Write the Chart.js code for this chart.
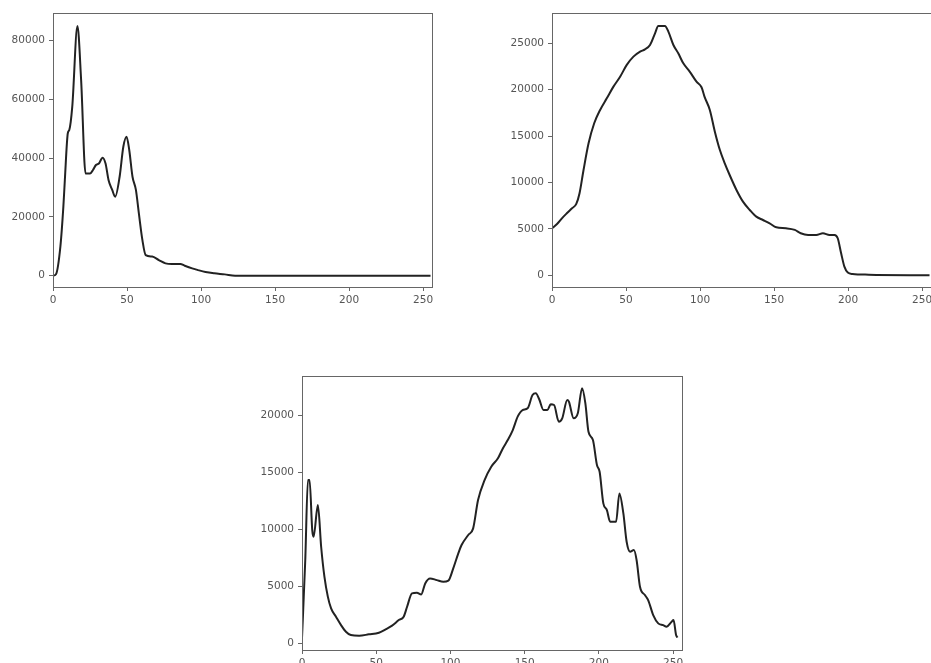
<!DOCTYPE html>
<html>
<head>
<meta charset="utf-8">
<script src="https://cdn.jsdelivr.net/npm/chart.js@4.4.0/dist/chart.umd.min.js"></script>
<style>
html, body { margin:0; padding:0; background:#fff; overflow:hidden; width:931px; height:663px; }
.boite { position:absolute; }
</style>
</head>
<body>
<div class="boite" style="left:0;top:0"><canvas id="h1" width="445" height="320"></canvas></div>
<div class="boite" style="left:498px;top:0"><canvas id="h2" width="447" height="320"></canvas></div>
<div class="boite" style="left:250px;top:360px"><canvas id="h3" width="445" height="303"></canvas></div>
<script>
// graduations de l'axe x (niveaux 0..255)
const xTicks = [0, 50, 100, 150, 200, 250];

// histogramme 1
const niv1 = [0, 2, 5, 7, 8, 10, 11, 13, 16.5, 19, 22, 25, 27, 29, 31, 33.5, 35.5, 37.5, 40, 42, 45, 47.5, 49.7, 51.5, 53.7, 56, 58, 60.4, 62.6, 67, 71.5, 76, 80.4, 86, 89, 94, 98, 103, 109, 116, 123, 255];
const val1 = [0, 500, 10000, 23500, 32600, 48500, 49600, 57500, 85000, 66600, 34800, 34800, 36000, 37700, 38200, 40200, 38200, 32600, 29200, 26900, 33700, 43900, 47300, 42800, 33700, 29200, 21200, 12100, 7000, 6500, 5300, 4200, 4000, 4000, 3400, 2500, 1900, 1250, 800, 450, 0, 0];
const yTicks1 = [0, 20000, 40000, 60000, 80000];

// histogramme 2
const niv2 = [0, 3.4, 6.7, 10, 13.5, 16.4, 18.6, 21.3, 24.7, 28.5, 32.5, 37, 41.5, 46, 50.5, 55, 59.5, 62.8, 66.2, 69.6, 71.8, 76.3, 78.6, 82, 85.3, 88.7, 93, 97.6, 101, 103, 106.6, 110, 113.4, 116.7, 120, 124.6, 129, 133.6, 138, 142.5, 147, 151.5, 158, 164, 168, 173, 178.5, 183, 187.4, 190.8, 193, 195.3, 197.5, 199.8, 203, 214, 255];
const val2 = [5065, 5530, 6140, 6680, 7220, 7690, 8840, 11350, 14220, 16380, 17820, 19070, 20330, 21400, 22670, 23560, 24100, 24350, 24820, 26080, 26870, 26870, 26260, 24820, 23920, 22840, 21950, 20870, 20260, 19250, 17820, 15480, 13500, 12070, 10810, 9200, 7940, 7040, 6320, 5960, 5600, 5170, 5065, 4890, 4530, 4350, 4350, 4530, 4350, 4350, 3990, 2370, 930, 290, 140, 70, 0];
const yTicks2 = [0, 5000, 10000, 15000, 20000, 25000];

// histogramme 3
const niv3 = [0, 2.2, 4, 5.1, 6.9, 7.8, 10.7, 12.9, 15.1, 17.4, 19.6, 22.9, 26.3, 29.6, 32.9, 38.5, 45, 51.8, 56.3, 60.7, 65.2, 68.5, 70.8, 74.1, 77.4, 80.3, 83, 86.3, 90.8, 95.2, 98.6, 101.9, 105.3, 107.5, 112, 115.3, 118.6, 123, 127.5, 132, 135.3, 138.6, 142, 145.3, 148.6, 152, 155.3, 157.5, 159.8, 162.7, 165.3, 167.6, 169.8, 173, 175.3, 178.7, 179.8, 183, 185.8, 188.7, 190.9, 193, 196, 198.7, 200.5, 203, 205.4, 207.6, 211.6, 213.8, 216.5, 218.7, 221, 223.6, 225.4, 227.7, 231, 233.2, 236.6, 240, 243.3, 245.6, 249, 250.3, 252, 253];
const val3 = [500, 7330, 14330, 14330, 9950, 9370, 12140, 8490, 5870, 4120, 3090, 2360, 1630, 1050, 760, 700, 820, 960, 1255, 1580, 2070, 2360, 3240, 4410, 4470, 4320, 5280, 5720, 5570, 5430, 5520, 6600, 7910, 8640, 9520, 10100, 12580, 14330, 15500, 16230, 17100, 17830, 18710, 19880, 20460, 20610, 21770, 21920, 21400, 20460, 20460, 20960, 20900, 19440, 19730, 21340, 21190, 19730, 20170, 22360, 21040, 18560, 17830, 15650, 15060, 12290, 11700, 10680, 10680, 13160, 11410, 8930, 8060, 8200, 7330, 4990, 4260, 3820, 2510, 1780, 1630, 1490, 1930, 2070, 760, 540];
const yTicks3 = [0, 5000, 10000, 15000, 20000];

// cadre autour de la zone de tracé
const cadre = {
    id: 'cadre',
    afterDraw(chart) {
        const a = chart.chartArea;
        const ctx = chart.ctx;
        ctx.save();
        ctx.strokeStyle = '#666';
        ctx.lineWidth = 1;
        ctx.strokeRect(Math.round(a.left) + 0.5, Math.round(a.top) + 0.5, Math.round(a.right - a.left), Math.round(a.bottom - a.top));
        ctx.restore();
    }
};

function histo(id, niv, val, yMin, yMax, yTicks, g) {
    let context = document.getElementById(id).getContext('2d');
    let points = [];
    for (let i = 0; i < niv.length; i++) {
        points.push({ x: niv[i], y: val[i] });
    }
    let police = { family: 'DejaVu Sans', size: 10.5 };
    let grille = { drawOnChartArea: false, drawTicks: true, tickLength: 4, color: '#666' };
    return new Chart(context, {
        type: 'line',
        data: {
            datasets: [{
                data: points,
                borderColor: '#222',
                borderWidth: 2,
                pointRadius: 0,
                fill: false,
                cubicInterpolationMode: 'monotone'
            }]
        },
        options: {
            responsive: false,
            animation: false,
            devicePixelRatio: 1,
            layout: { padding: { left: 0, top: g.top, right: g.right, bottom: 0 } },
            plugins: { legend: { display: false }, tooltip: { enabled: false } },
            scales: {
                x: {
                    type: 'linear', min: 0, max: 256,
                    afterBuildTicks: ax => { ax.ticks = xTicks.map(v => ({ value: v })); },
                    afterFit: ax => { ax.height = g.bas; ax.paddingLeft = 0; ax.paddingRight = 0; },
                    grid: grille,
                    border: { display: false },
                    ticks: { padding: 3, color: '#555', font: police, maxRotation: 0, autoSkip: false, callback: v => String(v) }
                },
                y: {
                    type: 'linear', min: yMin, max: yMax,
                    afterBuildTicks: ax => { ax.ticks = yTicks.map(v => ({ value: v })); },
                    afterFit: ax => { ax.width = g.gauche; ax.paddingTop = 0; ax.paddingBottom = 0; },
                    grid: grille,
                    border: { display: false },
                    ticks: { padding: 4, color: '#555', font: police, autoSkip: false, callback: v => String(v) }
                }
            }
        },
        plugins: [cadre]
    });
}

window.addEventListener('load', () => {
    histo('h1', niv1, val1, -3850, 89450, yTicks1, { gauche: 53, top: 13, right: 13, bas: 33 });
    histo('h2', niv2, val2, -1260, 28265, yTicks2, { gauche: 54, top: 13, right: 14, bas: 33 });
    histo('h3', niv3, val3, -550, 23440, yTicks3, { gauche: 52, top: 16, right: 13, bas: 13 });
});
</script>
</body>
</html>
